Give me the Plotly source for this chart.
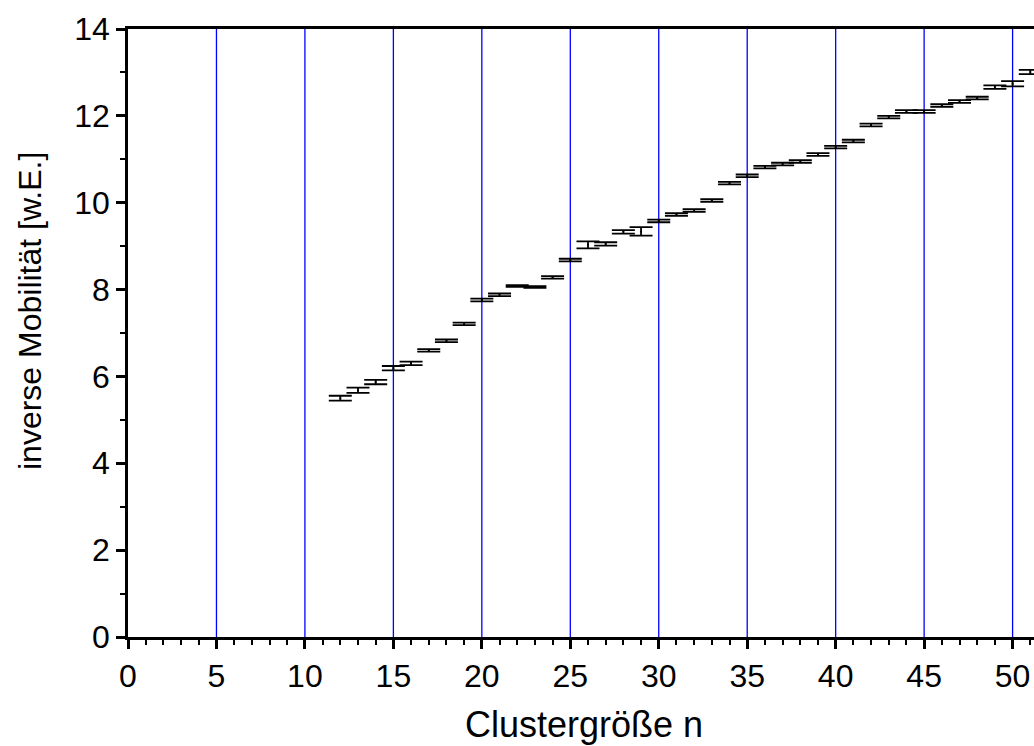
import plotly.graph_objects as go

# Cluster size n
cluster_size = list(range(12, 52))
# inverse mobility [w.E.]
inv_mobility = [5.50, 5.68, 5.87, 6.19, 6.30, 6.60, 6.82, 7.21, 7.76, 7.88,
                8.08, 8.06, 8.28, 8.68, 9.03, 9.05, 9.33, 9.34, 9.58, 9.73,
                9.82, 10.05, 10.45, 10.62, 10.82, 10.89, 10.95, 11.11, 11.28, 11.42,
                11.79, 11.97, 12.10, 12.10, 12.24, 12.33, 12.41, 12.66, 12.74, 13.01]
# error
inv_mobility_err = [0.055, 0.06, 0.05, 0.05, 0.04, 0.03, 0.03, 0.03, 0.03, 0.03,
                    0.02, 0.02, 0.03, 0.03, 0.08, 0.04, 0.04, 0.10, 0.03, 0.03,
                    0.03, 0.03, 0.03, 0.03, 0.03, 0.03, 0.03, 0.03, 0.03, 0.03,
                    0.03, 0.03, 0.03, 0.03, 0.03, 0.03, 0.03, 0.04, 0.06, 0.05]

x_ticks = list(range(0, 55, 5))
y_ticks = list(range(0, 16, 2))
blue_lines = list(range(5, 55, 5))

FONT = "Liberation Sans, Arial, sans-serif"

fig = go.Figure()
fig.add_trace(go.Scatter(
    x=cluster_size, y=inv_mobility, mode="markers",
    marker=dict(size=2, color="black"),
    error_y=dict(type="data", array=inv_mobility_err, visible=True,
                 color="black", thickness=1.8, width=11.5),
    showlegend=False,
))

for xv in blue_lines:
    fig.add_vline(x=xv, line=dict(color="rgb(0,0,255)", width=1.3), layer="below")

fig.update_layout(
    width=1034, height=746,
    margin=dict(l=128, r=0, t=29, b=109),
    paper_bgcolor="white", plot_bgcolor="white",
    font=dict(family=FONT, color="black", size=30),
    xaxis=dict(
        range=[0, 51.21], tickmode="array", tickvals=x_ticks,
        ticktext=[str(v) for v in x_ticks],
        showline=True, linecolor="black", linewidth=2.5, mirror=True,
        ticks="outside", ticklen=9, tickwidth=2.5, tickcolor="black",
        tickfont=dict(family=FONT, size=32),
        showgrid=False, zeroline=False,
        minor=dict(dtick=1, ticks="outside", ticklen=5, tickwidth=2, tickcolor="black", showgrid=False),
    ),
    yaxis=dict(
        range=[0, 14], tickmode="array", tickvals=y_ticks,
        ticktext=[str(v) for v in y_ticks],
        showline=True, linecolor="black", linewidth=2.5, mirror=False,
        ticks="outside", ticklen=9, tickwidth=2.5, tickcolor="black",
        tickfont=dict(family=FONT, size=32),
        showgrid=False, zeroline=False,
        minor=dict(dtick=1, ticks="outside", ticklen=5, tickwidth=2, tickcolor="black", showgrid=False),
    ),
    annotations=[
        dict(text="Clustergröße n", xref="paper", yref="paper",
             x=(584 - 128) / 906, y=(746 - 109 - 724) / (746 - 29 - 109),
             xanchor="center", yanchor="middle", showarrow=False,
             font=dict(family=FONT, size=36)),
        dict(text="inverse Mobilität [w.E.]", xref="paper", yref="paper",
             x=(30 - 128) / 906, y=(746 - 109 - 311) / (746 - 29 - 109),
             xanchor="center", yanchor="middle", textangle=-90, showarrow=False,
             font=dict(family=FONT, size=32)),
    ],
)

fig.write_html("out.html")
